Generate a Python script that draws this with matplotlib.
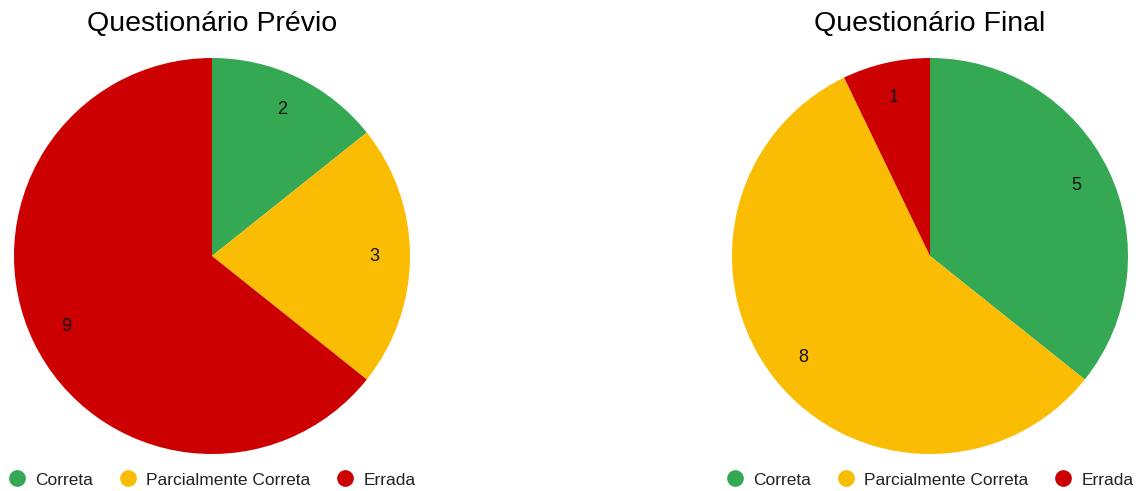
import matplotlib
matplotlib.use("Agg")
import matplotlib.pyplot as plt
from matplotlib.lines import Line2D

plt.rcParams['font.family'] = ['Liberation Sans', 'DejaVu Sans']

categories = ['Correta', 'Parcialmente Correta', 'Errada']
previo = [2, 3, 9]
final = [5, 8, 1]
titles = ['Questionário Prévio', 'Questionário Final']
colors = ['#34A853', '#FBBC04', '#CC0000']

W, H = 1146, 491
fig = plt.figure(figsize=(W / 100, H / 100), dpi=100)


def count_label(values):
    total = sum(values)
    return lambda pct: '%d' % round(pct * total / 100.0)


def draw_pie(cx, cy, r, values, title):
    ax = fig.add_axes([(cx - r) / W, (H - cy - r) / H, 2 * r / W, 2 * r / H])
    wedges, texts, autotexts = ax.pie(values, colors=colors, startangle=90,
                                      counterclock=False, radius=1,
                                      autopct=count_label(values), pctdistance=0.82,
                                      textprops={'fontsize': 13, 'color': '#111111'})
    ax.set_xlim(-1, 1)
    ax.set_ylim(-1, 1)
    ax.set_aspect('equal')
    fig.text(cx / W, 1 - 24 / H, title, ha='center', va='center', fontsize=20.5, color='#000000')

    # legend under each pie
    handles = [Line2D([], [], marker='o', linestyle='none', markersize=11,
                      markerfacecolor=c, markeredgecolor=c) for c in colors]
    fig.legend(handles, categories, loc='center', ncol=3, frameon=False,
               bbox_to_anchor=(cx / W, 1 - 480 / H), fontsize=12.5,
               handletextpad=0.55, columnspacing=1.5, labelcolor='#222222',
               handlelength=1.0)


draw_pie(212, 256, 198, previo, titles[0])
draw_pie(930, 256, 198, final, titles[1])

fig.savefig('out.png', dpi=100)
